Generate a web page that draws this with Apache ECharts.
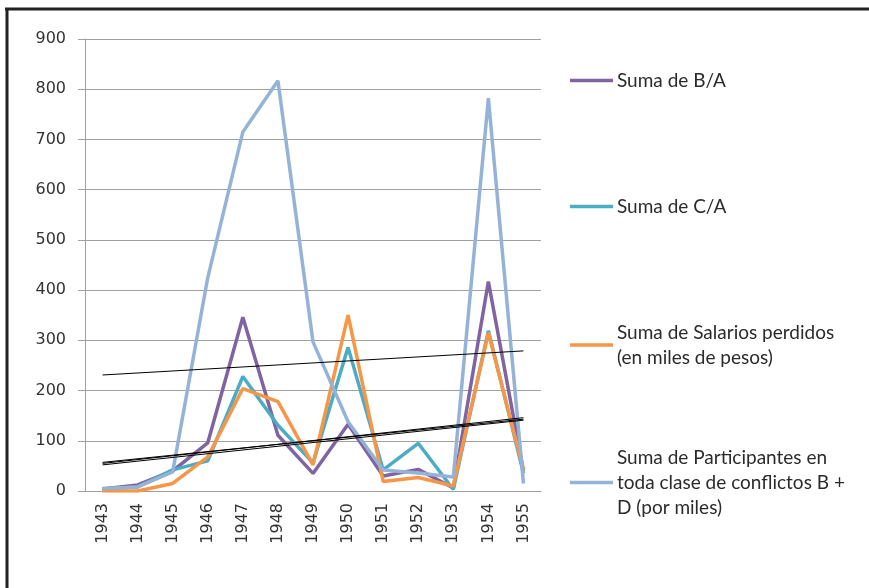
<!DOCTYPE html>
<html>
<head>
<meta charset="utf-8">
<script src="https://cdn.jsdelivr.net/npm/echarts@6/dist/echarts.min.js"></script>
<style>
  html, body { margin: 0; padding: 0; background: #fff; }
  #chart_block { width: 869px; height: 588px; }
</style>
</head>
<body>
<div id="chart_block"></div>
<script>
// years on the x axis
var years = ['1943', '1944', '1945', '1946', '1947', '1948', '1949', '1950', '1951', '1952', '1953', '1954', '1955'];

// values
var suma_ba = [4, 12, 40, 96, 346, 111, 35, 133, 30, 43, 6, 417, 40];
var suma_ca = [4, 8, 42, 60, 228, 131, 56, 286, 42, 95, 3, 319, 35];
var salarios = [0, 0, 15, 68, 204, 178, 52, 350, 19, 27, 10, 315, 42];
var participantes = [5, 8, 38, 425, 715, 817, 297, 138, 42, 36, 28, 782, 15];

// linear trend lines: value at 1943 and at 1955
var trend_ba = [55, 146];
var trend_ca = [57, 143];
var trend_sal = [52, 141];
var trend_part = [231, 279];

var names = [
    'Suma de B/A',
    'Suma de C/A',
    'Suma de Salarios perdidos\n(en miles de pesos)',
    'Suma de Participantes en\ntoda clase de conflictos B +\nD (por miles)'
];
var colors = ['#8064A2', '#4BACC6', '#F79646', '#95B3D7'];
var legend_top = [68, 194, 320, 445];

function trend(ends) {
    var d = years.map(function () { return null; });
    d[0] = ends[0];
    d[d.length - 1] = ends[1];
    return d;
}

var axis_font = 'DejaVu Sans';
var chart = echarts.init(document.getElementById('chart_block'));

var series = [suma_ba, suma_ca, salarios, participantes].map(function (v, i) {
    return {
        name: names[i],
        type: 'line',
        data: v,
        symbol: 'none',
        color: colors[i],
        lineStyle: { width: 3.5, color: colors[i] },
        z: 2
    };
});
[trend_ba, trend_ca, trend_sal, trend_part].forEach(function (t) {
    series.push({
        type: 'line',
        data: trend(t),
        connectNulls: true,
        symbol: 'none',
        silent: true,
        lineStyle: { width: 1, color: '#000' },
        z: 3
    });
});

var legends = names.map(function (n, i) {
    return {
        data: [n],
        left: 570,
        top: legend_top[i],
        padding: 0,
        icon: 'rect',
        itemWidth: 43,
        itemHeight: 3.5,
        itemGap: 4,
        textStyle: { fontFamily: 'Lato', fontSize: 19, color: '#2b2b2b', lineHeight: 25, padding: [0, 0, 0, -1] }
    };
});

var option = {
    animation: false,
    backgroundColor: '#fff',
    grid: { left: 85, top: 39, right: 328, bottom: 97 },
    legend: legends,
    xAxis: {
        type: 'category',
        data: years,
        boundaryGap: true,
        axisLine: { lineStyle: { color: '#A0A0A0' } },
        axisTick: { length: 7, lineStyle: { color: '#A0A0A0' } },
        axisLabel: { rotate: 90, fontFamily: axis_font, fontSize: 16, color: '#333', margin: 12 }
    },
    yAxis: {
        type: 'value',
        min: 0,
        max: 900,
        interval: 100,
        axisLine: { show: true, lineStyle: { color: '#A0A0A0' } },
        axisTick: { show: true, length: 7, lineStyle: { color: '#A0A0A0' } },
        splitLine: { lineStyle: { color: '#A0A0A0' } },
        axisLabel: { fontFamily: axis_font, fontSize: 16, color: '#333', margin: 19 }
    },
    graphic: [
        { type: 'line', shape: { x1: 5, y1: 9, x2: 869, y2: 9 }, style: { stroke: '#222', lineWidth: 3 } },
        { type: 'line', shape: { x1: 7, y1: 9, x2: 7, y2: 588 }, style: { stroke: '#222', lineWidth: 3 } }
    ],
    series: series
};
chart.setOption(option);
</script>
</body>
</html>
